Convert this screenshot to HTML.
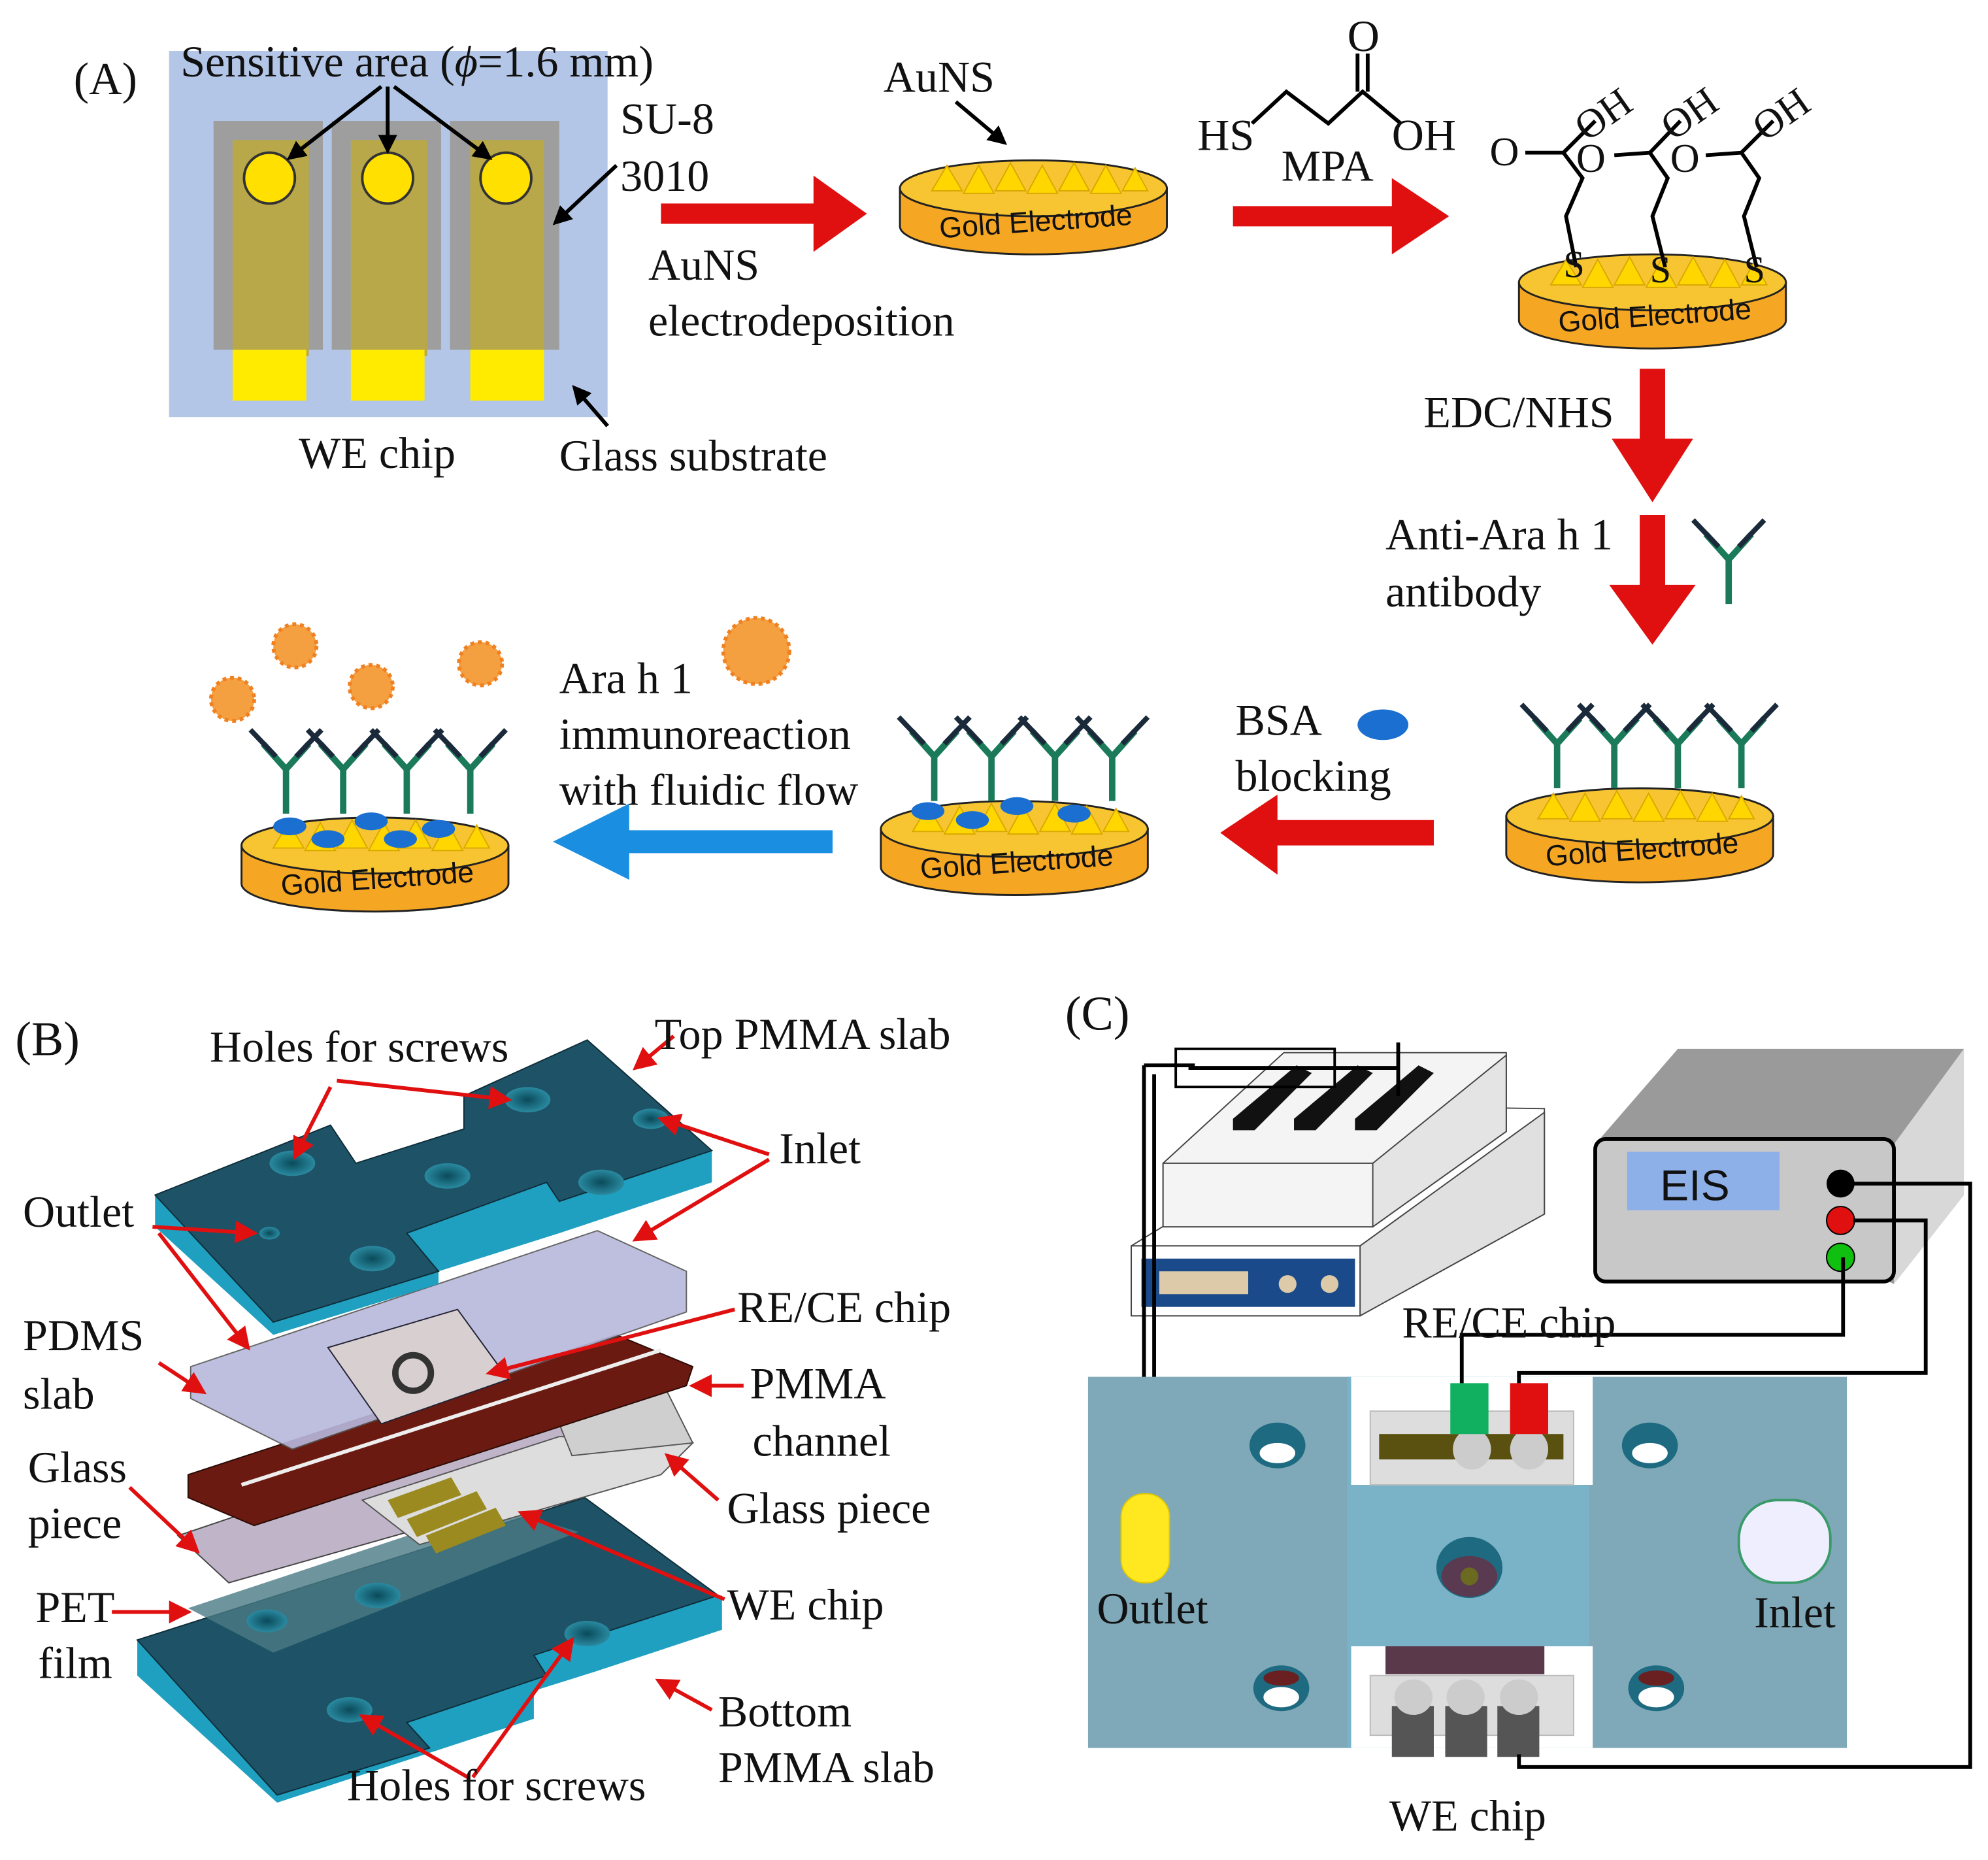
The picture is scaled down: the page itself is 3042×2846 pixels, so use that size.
<!DOCTYPE html><html><head><style>html,body{margin:0;padding:0;background:#fff}svg{display:block}text{font-family:"Liberation Serif",serif;fill:#111}</style></head><body>
<svg width="3042" height="2846" viewBox="0 0 1564 1463" xmlns="http://www.w3.org/2000/svg">
<defs>
<marker id="ah" markerWidth="6" markerHeight="6" refX="5" refY="3" orient="auto" markerUnits="strokeWidth"><path d="M0,0 L6,3 L0,6z" fill="#e01010"/></marker>
<marker id="bk" markerWidth="5" markerHeight="5" refX="4" refY="2.5" orient="auto" markerUnits="strokeWidth"><path d="M0,0 L5,2.5 L0,5z" fill="#000"/></marker>
<g id="gold">
<path d="M-105,0 L-105,30 A105,22 0 0 0 105,30 L105,0z" fill="#f5a623" stroke="#222" stroke-width="1.5"/>
<ellipse cx="0" cy="0" rx="105" ry="22" fill="#f7c531" stroke="#222" stroke-width="1.5"/>
<path d="M-80,2 l12,-20 l12,20z M-55,4 l12,-22 l12,22z M-30,2 l12,-22 l12,22z M-5,4 l12,-22 l12,22z M20,2 l12,-22 l12,22z M45,4 l12,-22 l12,22z M70,2 l10,-18 l10,18z" fill="#ffd700" stroke="#d9a800"/>
<text x="0" y="34" text-anchor="middle" font-size="23" style="font-family:'Liberation Sans',sans-serif" transform="rotate(-4)">Gold Electrode</text>
</g>
<g id="ab" stroke="#1a7a5a" stroke-width="5" fill="none">
<path d="M0,0 L0,-35 M0,-35 L-18,-55 M0,-35 L18,-55"/>
<path d="M-8,-45 L-28,-66 M8,-45 L28,-66" stroke="#1a2a3a" stroke-width="4"/>
</g>
<radialGradient id="hole"><stop offset="0" stop-color="#0a4a5a"/><stop offset="1" stop-color="#2a8aa0"/></radialGradient>
</defs>

<!-- Panel A -->
<text x="58" y="74" font-size="36">(A)</text>
<rect x="133" y="40" width="345" height="288" fill="#b4c6e7"/>
<g fill="#9e9e9e"><rect x="168" y="95" width="86" height="180"/><rect x="261" y="95" width="86" height="180"/><rect x="354" y="95" width="86" height="180"/></g>
<g fill="#b8a84a"><rect x="183" y="110" width="60" height="170"/><rect x="276" y="110" width="60" height="170"/><rect x="370" y="110" width="58" height="170"/></g>
<g fill="#ffeb00"><rect x="183" y="275" width="58" height="40"/><rect x="276" y="275" width="58" height="40"/><rect x="370" y="275" width="58" height="40"/></g>
<g fill="#ffe000" stroke="#333" stroke-width="2"><circle cx="212" cy="140" r="20"/><circle cx="305" cy="140" r="20"/><circle cx="398" cy="140" r="20"/></g>
<text x="142" y="60" font-size="35">Sensitive area (<tspan font-style="italic">ϕ</tspan>=1.6 mm)</text>
<g stroke="#000" stroke-width="3" marker-end="url(#bk)"><line x1="300" y1="68" x2="228" y2="124"/><line x1="305" y1="68" x2="305" y2="118"/><line x1="310" y1="68" x2="385" y2="124"/><line x1="485" y1="130" x2="437" y2="175"/><line x1="478" y1="335" x2="452" y2="305"/></g>
<text x="488" y="105" font-size="35">SU-8</text><text x="488" y="150" font-size="35">3010</text>
<text x="235" y="368" font-size="35">WE chip</text><text x="440" y="370" font-size="35">Glass substrate</text>
<path d="M520,160 H640 V138 L682,168 L640,198 V176 H520z" fill="#e01010"/>
<text x="510" y="220" font-size="35">AuNS</text><text x="510" y="264" font-size="35">electrodeposition</text>
<use href="#gold" x="813" y="148"/>
<text x="695" y="72" font-size="35">AuNS</text>
<line x1="752" y1="80" x2="790" y2="112" stroke="#000" stroke-width="3" marker-end="url(#bk)"/>
<g stroke="#000" stroke-width="3" fill="none"><path d="M985,97 L1012,72 L1045,97 L1072,72 L1102,97 M1068,72 L1068,42 M1076,72 L1076,42"/></g>
<text x="1060" y="40" font-size="35">O</text><text x="1095" y="118" font-size="35">OH</text><text x="942" y="118" font-size="35">HS</text>
<text x="1008" y="142" font-size="35">MPA</text>
<path d="M970,162 H1095 V140 L1140,170 L1095,200 V178 H970z" fill="#e01010"/>
<use href="#gold" x="1300" y="222"/>
<g stroke="#000" stroke-width="3" fill="none">
<path d="M1240,210 L1232,170 L1245,140 L1230,120 M1230,120 L1255,95 M1230,120 L1200,120"/>
<path d="M1310,210 L1300,170 L1312,140 L1298,120 M1298,120 L1322,95 M1298,120 L1270,122"/>
<path d="M1382,210 L1372,170 L1384,140 L1370,120 M1370,120 L1395,95 M1370,120 L1342,122"/>
</g>
<text x="1172" y="130" font-size="32">O</text><text x="1240" y="105" font-size="32" transform="rotate(-35 1255 95)">OH</text>
<text x="1240" y="135" font-size="32">O</text><text x="1308" y="105" font-size="32" transform="rotate(-35 1322 95)">OH</text>
<text x="1314" y="135" font-size="32">O</text><text x="1380" y="105" font-size="32" transform="rotate(-35 1395 95)">OH</text>
<text x="1230" y="218" font-size="30">S</text><text x="1298" y="222" font-size="30">S</text><text x="1372" y="222" font-size="30">S</text>
<text x="1120" y="336" font-size="35">EDC/NHS</text>
<path d="M1290,290 V345 H1268 L1300,395 L1332,345 H1310 V290z" fill="#e01010"/>
<text x="1090" y="432" font-size="35">Anti-Ara h 1</text><text x="1090" y="477" font-size="35">antibody</text>
<path d="M1290,405 V460 H1266 L1300,507 L1334,460 H1310 V405z" fill="#e01010"/>
<use href="#ab" x="1360" y="475"/>
<use href="#gold" x="1290" y="642"/>
<g><use href="#ab" x="1225" y="620"/><use href="#ab" x="1270" y="620"/><use href="#ab" x="1320" y="620"/><use href="#ab" x="1370" y="620"/></g>
<text x="972" y="578" font-size="35">BSA</text><text x="972" y="622" font-size="35">blocking</text>
<ellipse cx="1088" cy="570" rx="20" ry="12" fill="#1a6fd0"/>
<path d="M1128,645 H1005 V625 L960,655 L1005,688 V665 H1128z" fill="#e01010"/>
<use href="#gold" x="798" y="652"/>
<g><use href="#ab" x="735" y="630"/><use href="#ab" x="780" y="630"/><use href="#ab" x="830" y="630"/><use href="#ab" x="875" y="630"/></g>
<g fill="#1a6fd0"><ellipse cx="730" cy="638" rx="13" ry="7"/><ellipse cx="765" cy="645" rx="13" ry="7"/><ellipse cx="800" cy="634" rx="13" ry="7"/><ellipse cx="845" cy="640" rx="13" ry="7"/></g>
<text x="440" y="545" font-size="35">Ara h 1</text><text x="440" y="589" font-size="35">immunoreaction</text><text x="440" y="633" font-size="35">with fluidic flow</text>
<circle cx="595" cy="512" r="26" fill="#f5a040" stroke="#f08020" stroke-width="3" stroke-dasharray="3,3"/>
<line x1="655" y1="662" x2="480" y2="662" stroke="#1a8ee0" stroke-width="18"/>
<path d="M435,662 L495,632 L495,692z" fill="#1a8ee0"/>
<use href="#gold" x="295" y="665"/>
<g><use href="#ab" x="225" y="640"/><use href="#ab" x="270" y="640"/><use href="#ab" x="320" y="640"/><use href="#ab" x="370" y="640"/></g>
<g fill="#1a6fd0"><ellipse cx="228" cy="650" rx="13" ry="7"/><ellipse cx="258" cy="660" rx="13" ry="7"/><ellipse cx="292" cy="646" rx="13" ry="7"/><ellipse cx="345" cy="652" rx="13" ry="7"/><ellipse cx="315" cy="660" rx="13" ry="7"/></g>
<g fill="#f5a040" stroke="#f08020" stroke-width="3" stroke-dasharray="3,3"><circle cx="232" cy="508" r="17"/><circle cx="292" cy="540" r="17"/><circle cx="378" cy="522" r="17"/><circle cx="183" cy="550" r="17"/></g>

<!-- Panel B -->
<text x="12" y="830" font-size="38">(B)</text>
<path d="M108,1290 L108,1318 L218,1418 L420,1352 L420,1330 L468,1315 L568,1282 L568,1255z" fill="#1fa0c0"/>
<path d="M108,1290 L460,1178 L565,1255 L420,1302 L430,1318 L320,1355 L338,1375 L218,1412z" fill="#1e5266" stroke="#0e2e3a"/>
<path d="M148,1265 L390,1185 L455,1205 L215,1300z" fill="#4a7a85" opacity=".8"/>
<path d="M140,1208 L430,1110 L480,1160 L180,1245z" fill="#c0b5c8" stroke="#444"/>
<path d="M285,1180 L440,1130 L545,1135 L520,1160 L330,1215z" fill="#ddd" stroke="#555"/>
<g fill="#9a8a20"><path d="M305,1180 l50,-18 l8,14 l-50,18z"/><path d="M320,1195 l55,-22 l8,14 l-55,22z"/><path d="M335,1208 l55,-22 l8,14 l-55,22z"/></g>
<path d="M430,1095 L520,1085 L545,1135 L450,1145z" fill="#cfcfcf" stroke="#555"/>
<path d="M148,1160 L485,1050 L545,1075 L540,1090 L200,1200 L148,1178z" fill="#6a1a10" stroke="#2a0a05"/>
<line x1="190" y1="1168" x2="520" y2="1062" stroke="#eee" stroke-width="3"/>
<path d="M150,1075 L470,968 L540,1000 L540,1032 L230,1140 L150,1100z" fill="#b8b8dc" stroke="#555" opacity=".9"/>
<path d="M258,1060 L360,1030 L400,1085 L300,1120z" fill="#d8d0d0" stroke="#223"/>
<circle cx="325" cy="1080" r="14" fill="none" stroke="#333" stroke-width="5"/>
<path d="M122,940 L122,965 L215,1050 L345,1010 L345,1000 L440,970 L560,930 L560,905z" fill="#1fa0c0"/>
<path d="M122,940 L260,885 L280,915 L365,888 L365,862 L462,818 L560,905 L440,945 L430,930 L320,970 L345,1000 L215,1040z" fill="#1e5266" stroke="#0e2e3a"/>
<g fill="url(#hole)"><ellipse cx="230" cy="915" rx="18" ry="10"/><ellipse cx="415" cy="865" rx="18" ry="10"/><ellipse cx="512" cy="880" rx="14" ry="8"/><ellipse cx="352" cy="925" rx="18" ry="10"/><ellipse cx="473" cy="930" rx="18" ry="10"/><ellipse cx="293" cy="990" rx="18" ry="10"/><ellipse cx="212" cy="970" rx="8" ry="5"/><ellipse cx="297" cy="1255" rx="18" ry="10"/><ellipse cx="462" cy="1285" rx="18" ry="10"/><ellipse cx="275" cy="1345" rx="18" ry="10"/><ellipse cx="210" cy="1275" rx="16" ry="9"/></g>
<g stroke="#e01010" stroke-width="3" fill="none" marker-end="url(#ah)">
<line x1="260" y1="855" x2="232" y2="910"/><line x1="265" y1="850" x2="400" y2="865"/>
<line x1="530" y1="815" x2="500" y2="840"/>
<line x1="605" y1="908" x2="520" y2="880"/><line x1="605" y1="912" x2="500" y2="975"/>
<line x1="120" y1="965" x2="200" y2="970"/><line x1="125" y1="970" x2="195" y2="1060"/>
<line x1="125" y1="1072" x2="160" y2="1095"/>
<line x1="578" y1="1030" x2="385" y2="1080"/>
<line x1="585" y1="1090" x2="545" y2="1090"/>
<line x1="565" y1="1180" x2="525" y2="1145"/>
<line x1="102" y1="1170" x2="155" y2="1220"/>
<line x1="88" y1="1268" x2="148" y2="1268"/>
<line x1="570" y1="1258" x2="410" y2="1190"/>
<line x1="560" y1="1345" x2="518" y2="1322"/>
<line x1="368" y1="1398" x2="285" y2="1350"/><line x1="372" y1="1398" x2="450" y2="1290"/>
</g>
<text x="165" y="835" font-size="35">Holes for screws</text><text x="515" y="825" font-size="35">Top PMMA slab</text>
<text x="613" y="915" font-size="35">Inlet</text><text x="18" y="965" font-size="35">Outlet</text>
<text x="18" y="1062" font-size="35">PDMS</text><text x="18" y="1108" font-size="35">slab</text>
<text x="580" y="1040" font-size="35">RE/CE chip</text>
<text x="590" y="1100" font-size="35">PMMA</text><text x="592" y="1145" font-size="35">channel</text>
<text x="22" y="1166" font-size="35">Glass</text><text x="22" y="1210" font-size="35">piece</text>
<text x="572" y="1198" font-size="35">Glass piece</text>
<text x="28" y="1276" font-size="35">PET</text><text x="30" y="1320" font-size="35">film</text>
<text x="572" y="1274" font-size="35">WE chip</text>
<text x="565" y="1358" font-size="35">Bottom</text><text x="565" y="1402" font-size="35">PMMA slab</text>
<text x="273" y="1416" font-size="35">Holes for screws</text>

<!-- Panel C -->
<text x="838" y="810" font-size="38">(C)</text>
<path d="M890,980 L1070,870 L1215,872 L1215,955 L1070,1035 L890,1035z" fill="#fff" stroke="#444"/>
<path d="M890,980 L1070,980 L1215,875 L1215,955 L1070,1035z" fill="#e0e0e0" stroke="#444"/>
<rect x="890" y="980" width="180" height="55" fill="#fff" stroke="#444"/>
<rect x="898" y="990" width="168" height="38" fill="#1a4a8a"/>
<rect x="912" y="1000" width="70" height="18" fill="#dccaa8"/>
<circle cx="1013" cy="1010" r="7" fill="#dccaa8"/><circle cx="1046" cy="1010" r="7" fill="#dccaa8"/>
<path d="M915,915 L1010,828 L1185,828 L1185,890 L1080,965 L915,965z" fill="#f4f4f4" stroke="#444"/>
<path d="M915,915 L1080,915 L1185,830 L1185,890 L1080,965z" fill="#e4e4e4" stroke="#444"/>
<rect x="915" y="915" width="165" height="50" fill="#f4f4f4" stroke="#444"/>
<g fill="#111"><path d="M970,880 l50,-42 l12,6 l-45,45 l-17,0z"/><path d="M1018,880 l50,-42 l12,6 l-45,45 l-17,0z"/><path d="M1066,880 l50,-42 l12,6 l-45,45 l-17,0z"/></g>
<rect x="925" y="825" width="125" height="30" fill="none" stroke="#000" stroke-width="2"/>
<path d="M935,840 L1100,840 M1100,820 L1100,862 M900,838 L940,838 M900,838 L900,1190 M908,845 L908,1190" stroke="#000" stroke-width="3" fill="none"/>
<path d="M1255,900 L1320,825 L1545,825 L1545,940 L1490,1010z" fill="#9a9a9a"/>
<path d="M1490,900 L1545,825 L1545,940 L1490,1010z" fill="#d8d8d8"/>
<rect x="1255" y="896" width="235" height="112" rx="8" fill="#c8c8c8" stroke="#000" stroke-width="3"/>
<rect x="1280" y="906" width="120" height="46" fill="#8eb0e8"/>
<text x="1306" y="944" font-size="34" style="font-family:'Liberation Sans',sans-serif">EIS</text>
<circle cx="1448" cy="931" r="11" fill="#000"/><circle cx="1448" cy="960" r="11" fill="#e01010" stroke="#000"/><circle cx="1448" cy="989" r="11" fill="#10c010" stroke="#000"/>
<rect x="856" y="1083" width="597" height="292" fill="#7fa9b8"/>
<rect x="1060" y="1083" width="190" height="292" fill="#7ab3c8"/>
<rect x="1063" y="1083" width="190" height="85" fill="#fff"/>
<rect x="1078" y="1110" width="160" height="58" fill="#ddd" stroke="#bbb"/>
<rect x="1085" y="1128" width="145" height="20" fill="#5a5010"/>
<rect x="1063" y="1295" width="190" height="80" fill="#fff"/>
<rect x="1090" y="1295" width="125" height="22" fill="#5a3a4a"/>
<rect x="1078" y="1318" width="160" height="47" fill="#ddd" stroke="#bbb"/>
<g fill="#555"><rect x="1095" y="1342" width="33" height="40"/><rect x="1137" y="1342" width="33" height="40"/><rect x="1178" y="1342" width="33" height="40"/></g>
<g fill="#ccc"><ellipse cx="1112" cy="1335" rx="15" ry="14"/><ellipse cx="1153" cy="1335" rx="15" ry="14"/><ellipse cx="1195" cy="1335" rx="15" ry="14"/><ellipse cx="1158" cy="1140" rx="15" ry="16"/><ellipse cx="1203" cy="1140" rx="15" ry="16"/></g>
<path d="M1141,1088 h30 v40 h-30z" fill="#10b060"/><path d="M1188,1088 h30 v40 h-30z" fill="#e01010"/>
<g><ellipse cx="1005" cy="1137" rx="22" ry="18" fill="#1e6a80"/><ellipse cx="1005" cy="1143" rx="14" ry="8" fill="#fff"/>
<ellipse cx="1298" cy="1137" rx="22" ry="18" fill="#1e6a80"/><ellipse cx="1298" cy="1143" rx="14" ry="8" fill="#fff"/>
<ellipse cx="1008" cy="1328" rx="22" ry="18" fill="#1e6a80"/><ellipse cx="1008" cy="1335" rx="14" ry="8" fill="#fff"/><ellipse cx="1008" cy="1320" rx="14" ry="6" fill="#6a2020"/>
<ellipse cx="1303" cy="1328" rx="22" ry="18" fill="#1e6a80"/><ellipse cx="1303" cy="1335" rx="14" ry="8" fill="#fff"/><ellipse cx="1303" cy="1320" rx="14" ry="6" fill="#6a2020"/>
<ellipse cx="1156" cy="1233" rx="26" ry="24" fill="#1e6a80"/><ellipse cx="1156" cy="1240" rx="22" ry="16" fill="#5a3a50"/><circle cx="1156" cy="1240" r="7" fill="#6a6a20"/></g>
<rect x="882" y="1175" width="38" height="70" rx="18" fill="#ffe820" stroke="#e0c800"/>
<rect x="1368" y="1180" width="72" height="65" rx="30" fill="#eef" stroke="#3a9a6a" stroke-width="2"/>
<path d="M1450,931 H1550 V1390 H1195 V1380 M1458,960 H1515 V1080 H1195 V1088 M1450,989 V1050 H1150 V1088" stroke="#000" stroke-width="3" fill="none"/>
<text x="1103" y="1052" font-size="35">RE/CE chip</text>
<text x="863" y="1277" font-size="35">Outlet</text><text x="1380" y="1280" font-size="35">Inlet</text>
<text x="1093" y="1440" font-size="35">WE chip</text>
</svg>
</body></html>
